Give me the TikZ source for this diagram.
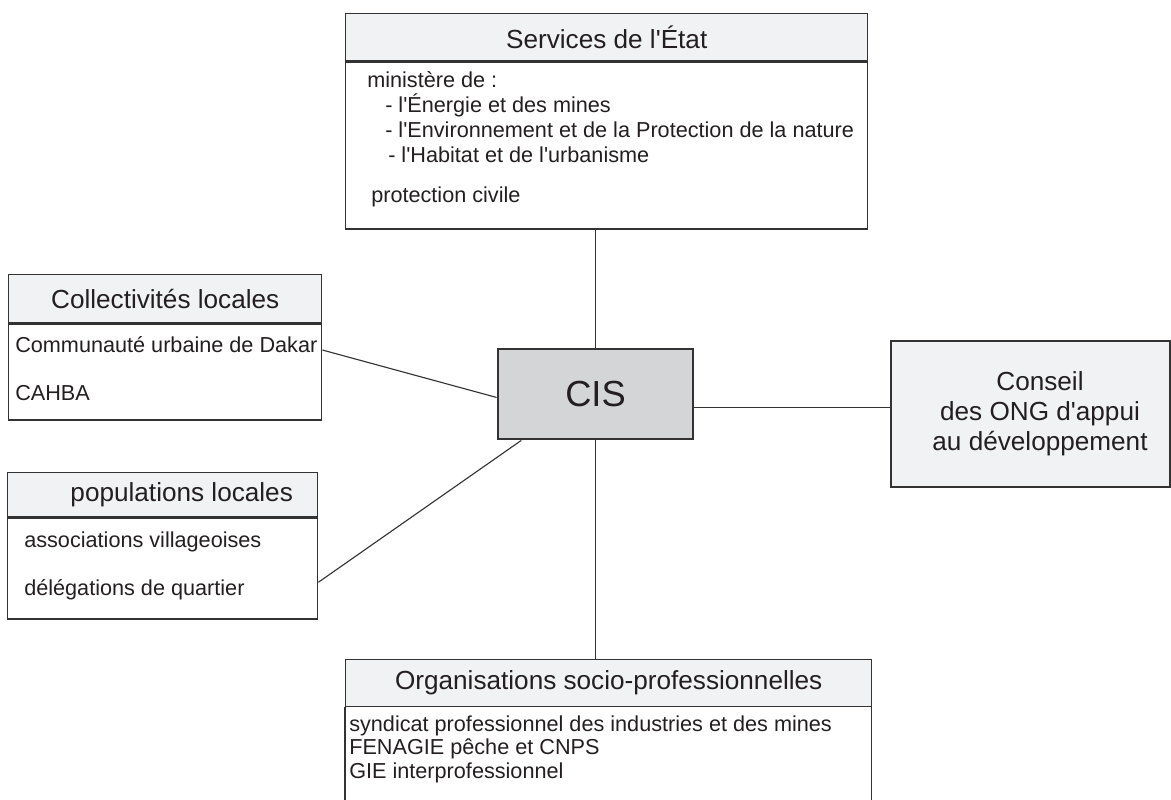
\documentclass[tikz,border=0pt]{standalone}
\usepackage{fontspec}
\setmainfont{Liberation Sans}
\usetikzlibrary{positioning}
\definecolor{headgray}{HTML}{F1F2F4}
\definecolor{cisgray}{HTML}{D4D5D7}
\definecolor{linegray}{HTML}{333333}
\definecolor{inkblack}{HTML}{231F20}
\newcommand{\sq}{\textquotesingle}
\tikzset{
  headbox/.style={draw=linegray, line width=1pt, fill=headgray, text=inkblack,
    inner sep=0pt, anchor=north west, font=\fontsize{18.6}{22}\selectfont},
  bodybox/.style={draw=linegray, line width=1pt, inner sep=0pt, anchor=north west},
  item/.style={anchor=base west, inner sep=0pt, text=inkblack,
    font=\fontsize{15.4}{18}\selectfont},
  link/.style={draw=linegray, line width=0.8pt},
}
\begin{document}
\begin{tikzpicture}[x=0.25mm, y=-0.25mm]
        \useasboundingbox (0,0) rectangle (1171,799);
        % services de l'Etat
        \node[headbox, minimum width=130.5mm, minimum height=11.75mm] (etath) at (345,13) {Services de l\sq État};
        \node[bodybox, minimum width=130.5mm, minimum height=41.75mm] (etatb) at (etath.south west) {};
        \node[item] (etat1) at (367,87) {ministère de :};
        \node[item] (etat2) at (385,112) {- l\sq Énergie et des mines};
        \node[item] (etat3) at (385,137) {- l\sq Environnement et de la Protection de la nature};
        \node[item] (etat4) at (388,162) {- l\sq Habitat et de l\sq urbanisme};
        \node[item] (etat5) at (371,202) {protection civile};
        % collectivites
        \node[headbox, minimum width=78.25mm, minimum height=12mm] (colh) at (8,274) {Collectivités locales};
        \node[bodybox, minimum width=78.25mm, minimum height=24mm] (colb) at (colh.south west) {};
        \node[item] (col1) at (15,352) {Communauté urbaine de Dakar};
        \node[item] (col2) at (15,400) {CAHBA};
        % populations
        \node[headbox, minimum width=77.5mm, minimum height=11mm] (poph) at (7,472) {\hspace*{9.5mm}populations locales};
        \node[bodybox, minimum width=77.5mm, minimum height=25.25mm] (popb) at (poph.south west) {};
        \node[item] (pop1) at (24,547) {associations villageoises};
        \node[item] (pop2) at (24,595) {délégations de quartier};
        % centre
        \node[draw=linegray, line width=2pt, fill=cisgray, text=inkblack, minimum width=48.75mm,
          minimum height=22.5mm, font=\fontsize{25.8}{30}\selectfont] (cis) at (595.5,394) {CIS};
        % ONG
        \node[draw=linegray, line width=1pt, fill=headgray, minimum width=69.75mm, minimum height=36.5mm] (ong) at (1030.5,414) {};
        \node[align=center, inner sep=0pt, text=inkblack, font=\fontsize{18.6}{21.3}\selectfont] (ongtext) at (1040,414)
          {Conseil\\des ONG d\sq appui\\au développement};
        % organisations
        \node[headbox, minimum width=131.5mm, minimum height=11.75mm] (orgh) at (345,659) {Organisations socio-professionnelles};
        \node[inner sep=0pt, anchor=north west, minimum width=131.5mm, minimum height=23.25mm] (orgb) at (orgh.south west) {};
        \draw[linegray, line width=1pt] (orgb.south west) -- (orgb.north west) (orgb.north east) -- (orgb.south east);
        \node[item] (org1) at (349,731) {syndicat professionnel des industries et des mines};
        \node[item] (org2) at (349,754) {FENAGIE pêche et CNPS};
        \node[item] (org3) at (349,778) {GIE interprofessionnel};
        % links
        \draw[link] (cis.north) -- (cis.north |- etatb.south);
        \draw[link] (cis.south) -- (cis.south |- orgh.north);
        \draw[link] (colb.8) -- (cis.182);
        \draw[link] (popb.-5) -- (cis.212);
        \draw[link] (cis.-8) -- (cis.-8 -| ong.west);
    \end{tikzpicture}
\end{document}
